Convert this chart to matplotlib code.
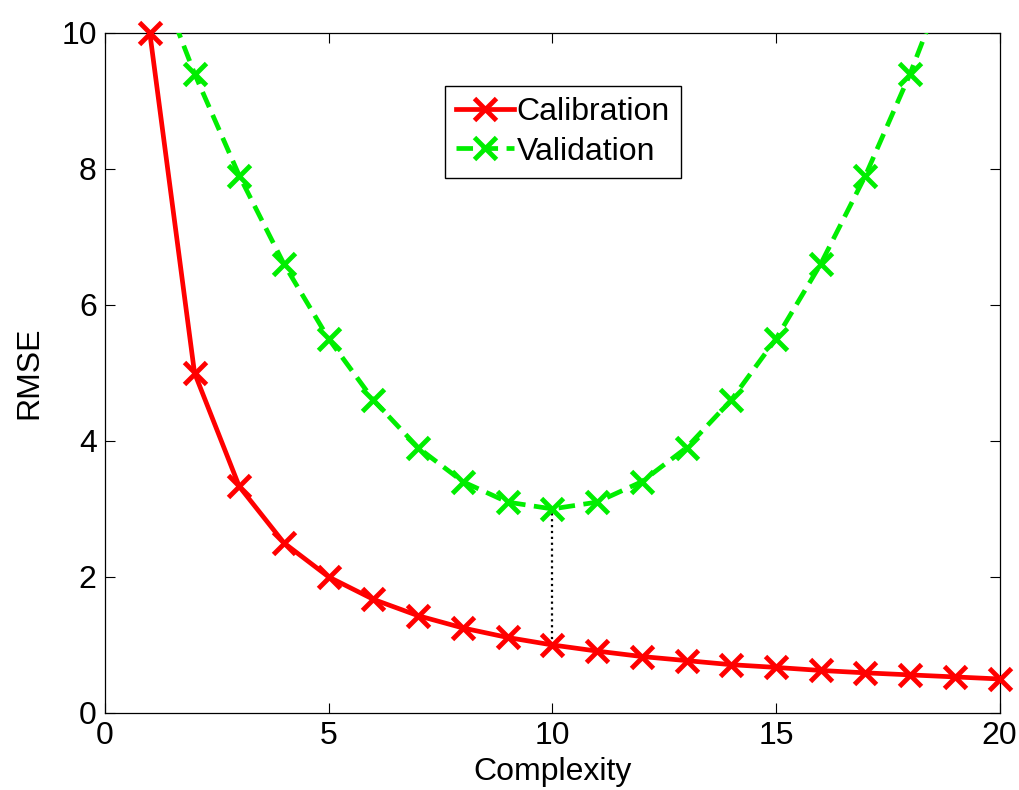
import matplotlib
matplotlib.use("Agg")
import matplotlib.pyplot as plt
import numpy as np

# complexity levels
complexity = [1, 2, 3, 4, 5, 6, 7, 8, 9, 10, 11, 12, 13, 14, 15, 16, 17, 18, 19, 20]
# calibration error
calibration = [10.0, 5.0, 3.33, 2.5, 2.0, 1.67, 1.43, 1.25, 1.11, 1.0,
               0.91, 0.83, 0.77, 0.71, 0.67, 0.625, 0.59, 0.56, 0.53, 0.5]
# validation error (points above 10 fall outside the axes)
validation = [11.1, 9.4, 7.9, 6.6, 5.5, 4.6, 3.9, 3.4, 3.1, 3.0,
              3.1, 3.4, 3.9, 4.6, 5.5, 6.6, 7.9, 9.4, 11.1, 13.0]
# optimum marker
best_x = 10
best_span = [1.0, 3.0]

plt.rcParams['font.family'] = ['Liberation Sans', 'DejaVu Sans']

fig = plt.figure(figsize=(10.2, 7.9), dpi=100)
ax = fig.add_axes([0.103, 0.0975, 0.877, 0.861])

ax.plot(complexity, calibration, "-", color="#ff0000", lw=3.4, marker="x",
        ms=16, mew=3.5, label="Calibration", clip_on=False, zorder=3)
ax.plot(complexity, validation, "--", color="#00ee00", lw=3.4, marker="x",
        ms=16, mew=3.5, label="Validation", dashes=(3.5, 1.8), zorder=3)
ax.plot([best_x, best_x], best_span, ":", color="black", lw=1.6, zorder=2)

ax.set_xlim(0, 20)
ax.set_ylim(0, 10)
ax.set_xticks([0, 5, 10, 15, 20])
ax.set_yticks([0, 2, 4, 6, 8, 10])
ax.tick_params(direction="in", top=True, right=True, labelsize=23, length=7, width=0.8, pad=6)
for s in ax.spines.values():
    s.set_linewidth(0.9)
ax.set_xlabel("Complexity", fontsize=23, labelpad=4)
ax.set_ylabel("RMSE", fontsize=23, labelpad=12)

leg = ax.legend(loc="upper center", bbox_to_anchor=(0.512, 0.922), fontsize=23,
                handlelength=1.8, handletextpad=0.1, borderpad=0.35, labelspacing=0.3,
                borderaxespad=0, fancybox=False, framealpha=1, edgecolor="black")
leg.get_frame().set_linewidth(1.0)

fig.savefig("out.png", dpi=100)
